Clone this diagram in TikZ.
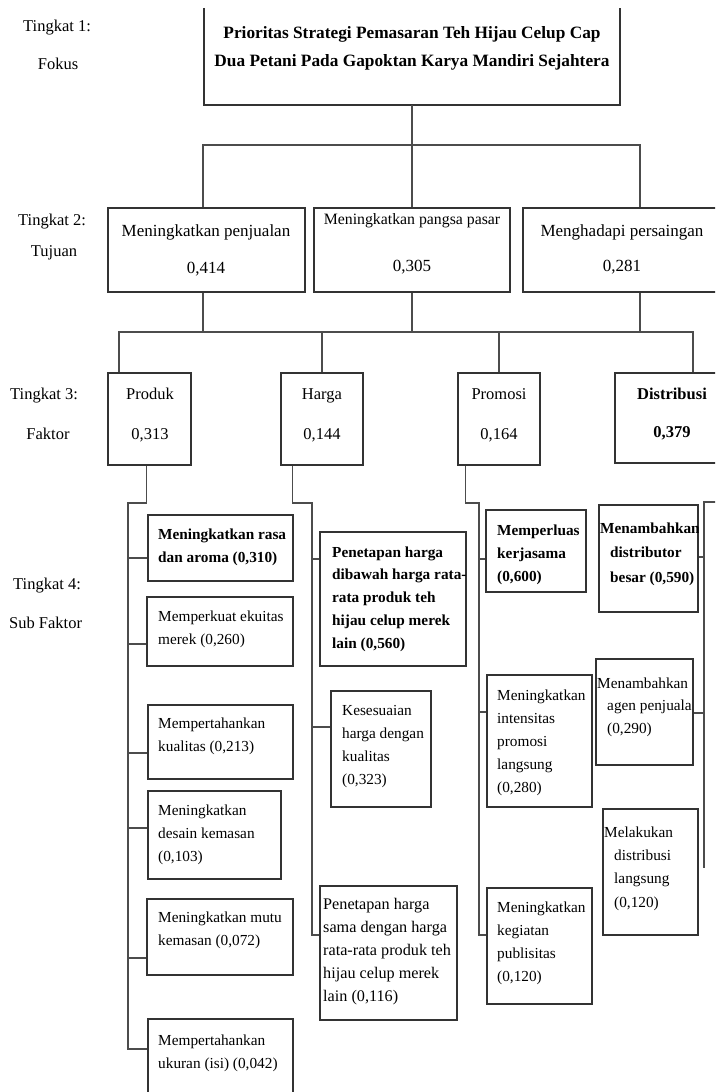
\documentclass[tikz,border=0pt]{standalone}
\usepackage{fontspec}
\setmainfont{Liberation Serif}
\usetikzlibrary{fit}
\tikzset{
  bx/.style={draw=black!80, line width=1.6pt, inner sep=0pt},
  cn/.style={draw=black!70, line width=1.3pt},
  lvl/.style={anchor=base west, inner sep=0pt, font=\fontsize{16.5}{20}\selectfont},
  lvlc/.style={anchor=base, inner sep=0pt, font=\fontsize{16.5}{20}\selectfont},
  hd/.style={anchor=base, inner sep=0pt, font=\fontsize{17}{20}\selectfont},
  sub/.style={anchor=base west, inner sep=0pt, align=left, font=\fontsize{15.3}{23}\selectfont},
  subb/.style={anchor=base west, inner sep=0pt, align=left, font=\fontsize{15.3}{23}\selectfont\bfseries},
}
\begin{document}
\begin{tikzpicture}[x=1pt,y=-1pt]
\useasboundingbox (0,0) rectangle (715,1092);
\clip (0,0) rectangle (715,1092);

% ---------- level labels
\node[lvl] (t1) at (23,31) {Tingkat 1:};
\node[lvlc] (l1) at (58,69) {Fokus};
\node[lvl] (t2) at (18,225) {Tingkat 2:};
\node[lvlc] (l2) at (54,256) {Tujuan};
\node[lvl] (t3) at (10,399) {Tingkat 3:};
\node[lvlc] (l3) at (48,439) {Faktor};
\node[lvl] (t4) at (13,589) {Tingkat 4:};
\node[lvl] (l4) at (9,628) {Sub Faktor};

% ---------- level 1
\node[inner sep=0pt, fit={(204,8)(620,105)}] (focus) {};
\draw[bx] (focus.north west) -- (focus.south west) -- (focus.south east) -- (focus.north east);
\node[anchor=base, align=center, inner sep=0pt, font=\fontsize{17.3}{28}\selectfont\bfseries] (ftext) at (412,66)
  {Prioritas Strategi Pemasaran Teh Hijau Celup Cap\\Dua Petani Pada Gapoktan Karya Mandiri Sejahtera};

% ---------- level 2
\node[bx, fit={(108,208)(305,292)}] (g1) {};
\node[hd] (g1a) at (206,236) {Meningkatkan penjualan};
\node[hd] (g1b) at (206,273) {0,414};
\node[bx, fit={(314,208)(510,292)}] (g2) {};
\node[hd, font=\fontsize{15.8}{20}\selectfont] (g2a) at (412,224) {Meningkatkan pangsa pasar};
\node[hd] (g2b) at (412,271) {0,305};
\node[bx, fit={(523,208)(722,292)}] (g3) {};
\node[hd] (g3a) at (622,236) {Menghadapi persaingan};
\node[hd] (g3b) at (622,271) {0,281};

\coordinate (j1l) at (203,145);
\coordinate (j1r) at (640,145);
\draw[cn] (focus.south) -- (focus.south |- j1l);
\draw[cn] (j1l |- g1.north) -- (j1l) -- (j1r) -- (j1r |- g3.north);
\draw[cn] (focus.south |- j1l) -- (focus.south |- g2.north);

% ---------- level 3
\node[bx, fit={(108,373)(191,465)}] (f1) {};
\node[lvlc] (f1a) at (150,399) {Produk};
\node[lvlc] (f1b) at (150,439) {0,313};
\node[bx, fit={(281,373)(363,465)}] (f2) {};
\node[lvlc] (f2a) at (322,399) {Harga};
\node[lvlc] (f2b) at (322,439) {0,144};
\node[bx, fit={(458,373)(540,465)}] (f3) {};
\node[lvlc] (f3a) at (499,399) {Promosi};
\node[lvlc] (f3b) at (499,439) {0,164};
\node[bx, fit={(615,373)(730,463)}] (f4) {};
\node[lvlc, font=\fontsize{16.5}{20}\selectfont\bfseries] (f4a) at (672,399) {Distribusi};
\node[lvlc, font=\fontsize{16.5}{20}\selectfont\bfseries] (f4b) at (672,437) {0,379};

\coordinate (j2l) at (119,332);
\coordinate (j2r) at (693,332);
\draw[cn] (g1.south -| j1l) -- (j1l |- j2l);
\draw[cn] (g2.south) -- (g2.south |- j2l);
\draw[cn] (g3.south -| j1r) -- (j1r |- j2l);
\draw[cn] (j2l |- f1.north) -- (j2l) -- (j2r) -- (j2r |- f4.north);
\draw[cn] (f2.north |- j2l) -- (f2.north);
\draw[cn] (f3.north |- j2l) -- (f3.north);

% ---------- level 4 : Produk
\node[bx, fit={(148,515)(293,581)}] (p1) {};
\node[subb] (p1t) at (158,562) {Meningkatkan rasa\\dan aroma (0,310)};
\node[bx, fit={(147,597)(293,666)}] (p2) {};
\node[sub] (p2t) at (158,644) {Memperkuat ekuitas\\merek (0,260)};
\node[bx, fit={(148,705)(293,779)}] (p3) {};
\node[sub] (p3t) at (158,751) {Mempertahankan\\kualitas (0,213)};
\node[bx, fit={(148,791)(281,879)}] (p4) {};
\node[sub] (p4t) at (158,861) {Meningkatkan\\desain kemasan\\(0,103)};
\node[bx, fit={(147,899)(293,975)}] (p5) {};
\node[sub] (p5t) at (158,945) {Meningkatkan mutu\\kemasan (0,072)};
\node[bx, fit={(148,1019)(293,1100)}] (p6) {};
\node[sub] (p6t) at (158,1068) {Mempertahankan\\ukuran (isi) (0,042)};

\coordinate (pk) at (128,503);
\coordinate (ps1) at (128,558);
\coordinate (ps2) at (128,644);
\coordinate (ps3) at (128,753);
\coordinate (ps4) at (128,828);
\coordinate (ps5) at (128,958);
\coordinate (ps6) at (128,1049);
\draw[cn] ([xshift=-3pt]f1.south) |- (pk) -- (ps6) -- (ps6 -| p6.west);
\draw[cn] (ps1) -- (ps1 -| p1.west);
\draw[cn] (ps2) -- (ps2 -| p2.west);
\draw[cn] (ps3) -- (ps3 -| p3.west);
\draw[cn] (ps4) -- (ps4 -| p4.west);
\draw[cn] (ps5) -- (ps5 -| p5.west);

% ---------- level 4 : Harga
\node[bx, fit={(320,532)(466,666)}] (h1) {};
\node[subb, font=\fontsize{15.3}{22.75}\selectfont\bfseries] (h1t) at (332,648) {Penetapan harga\\dibawah harga rata-\\rata produk teh\\hijau celup merek\\lain (0,560)};
\node[bx, fit={(331,691)(431,807)}] (h2) {};
\node[sub, font=\fontsize{15.3}{22.7}\selectfont] (h2t) at (342,784) {Kesesuaian\\harga dengan\\kualitas\\(0,323)};
\node[bx, fit={(320,886)(457,1020)}] (h3) {};
\node[sub, font=\fontsize{16.2}{22.8}\selectfont] (h3t) at (323,1001) {Penetapan harga\\sama dengan harga\\rata-rata produk teh\\hijau celup merek\\lain (0,116)};

\coordinate (hk) at (312,503);
\coordinate (hs1) at (312,559);
\coordinate (hs2) at (312,727);
\coordinate (hs3) at (312,935);
\draw[cn] ([xshift=12pt]f2.south west) |- (hk) -- (hs3) -- (hs3 -| h3.west);
\draw[cn] (hs1) -- (hs1 -| h1.west);
\draw[cn] (hs2) -- (hs2 -| h2.west);

% ---------- level 4 : Promosi
\node[bx, fit={(486,510)(586,592)}] (r1) {};
\node[subb] (r1t) at (497,581) {Memperluas\\kerjasama\\(0,600)};
\node[bx, fit={(487,675)(592,807)}] (r2) {};
\node[sub] (r2t) at (497,792) {Meningkatkan\\intensitas\\promosi\\langsung\\(0,280)};
\node[bx, fit={(487,888)(592,1004)}] (r3) {};
\node[sub] (r3t) at (497,981) {Meningkatkan\\kegiatan\\publisitas\\(0,120)};

\coordinate (rk) at (479,503);
\coordinate (rs1) at (479,559);
\coordinate (rs2) at (479,712);
\coordinate (rs3) at (479,935);
\draw[cn] ([xshift=8pt]f3.south west) |- (rk) -- (rs3) -- (rs3 -| r3.west);
\draw[cn] (rs1) -- (rs1 -| r1.west);
\draw[cn] (rs2) -- (rs2 -| r2.west);

% ---------- level 4 : Distribusi
\node[bx, fit={(599,505)(698,612)}] (d1) {};
\begin{scope}
\clip (d1.north west) rectangle (d1.south east);
\node[subb, font=\fontsize{15.3}{24.5}\selectfont\bfseries] (d1t) at (600,582) {Menambahkan\\\hspace*{10pt}distributor\\\hspace*{10pt}besar (0,590)};
\end{scope}
\node[bx, fit={(596,659)(693,765)}] (d2) {};
\node[sub, font=\fontsize{15.3}{22.5}\selectfont] (d2t) at (597,733) {Menambahkan\\\hspace*{10pt}agen penjuala\\\hspace*{10pt}(0,290)};
\node[bx, fit={(603,809)(698,935)}] (d3) {};
\node[sub, font=\fontsize{15.3}{23.3}\selectfont] (d3t) at (604,907) {Melakukan\\\hspace*{10pt}distribusi\\\hspace*{10pt}langsung\\\hspace*{10pt}(0,120)};

\coordinate (dk0) at (720,502);
\coordinate (dk) at (704,502);
\coordinate (ds1) at (704,557);
\coordinate (ds2) at (704,713);
\coordinate (dk2) at (704,868);
\draw[cn] (dk0) -- (dk) -- (dk2);
\draw[cn] (ds1) -- (ds1 -| d1.east);
\draw[cn] (ds2) -- (ds2 -| d2.east);
\end{tikzpicture}
\end{document}
